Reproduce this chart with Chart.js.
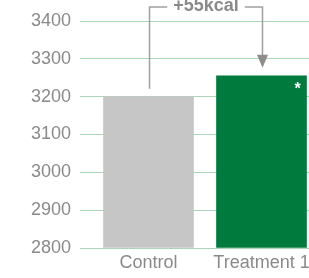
<!DOCTYPE html>
<html>
<head>
<meta charset="utf-8">
<script src="https://cdn.jsdelivr.net/npm/chart.js@4/dist/chart.umd.min.js"></script>
<style>
  html, body { margin: 0; padding: 0; background: #fff; overflow: hidden; }
  canvas { display: block; }
</style>
</head>
<body>
<canvas id="c" width="318" height="278"></canvas>
<script>
// data
const categories = ['Control', 'Treatment 1'];
const intake = [3200, 3255];
const barColors = ['#c6c6c6', '#007a3d'];
const yMin = 2800, yMax = 3400, yStep = 100;
const deltaLabel = '+55kcal';
const markLabel = '*';

const GRID = '#a9d6b7';
const TEXT = '#8a8a8a';
const FONT = '"Liberation Sans", Arial, Helvetica, sans-serif';

// bracket with arrow from control to treatment + asterisk on the treatment bar
const annotate = {
  id: 'annotate',
  afterDatasetsDraw(chart) {
    const ctx = chart.ctx;
    const xs = chart.scales.x, ys = chart.scales.y;
    const x0 = Math.round(xs.getPixelForValue(0)) + 0.5;
    const x1 = Math.round(xs.getPixelForValue(1)) + 0.5;
    const y0 = ys.getPixelForValue(intake[0]);
    const y1 = ys.getPixelForValue(intake[1]);
    const top = chart.chartArea.top - 14;

    ctx.save();
    ctx.font = 'bold 18px ' + FONT;
    const mid = (x0 + x1) / 2;
    const tw = ctx.measureText(deltaLabel).width;

    ctx.strokeStyle = '#a0a0a0';
    ctx.lineWidth = 1.5;
    ctx.beginPath();
    ctx.moveTo(x0, y0 - 8);
    ctx.lineTo(x0, top);
    ctx.lineTo(mid - tw / 2 - 6, top);
    ctx.moveTo(mid + tw / 2 + 6, top);
    ctx.lineTo(x1, top);
    ctx.lineTo(x1, y1 - 20);
    ctx.stroke();

    ctx.fillStyle = '#8c8c8c';
    ctx.beginPath();
    ctx.moveTo(x1 - 5.5, y1 - 21);
    ctx.lineTo(x1 + 5.5, y1 - 21);
    ctx.lineTo(x1, y1 - 8);
    ctx.closePath();
    ctx.fill();

    ctx.fillStyle = TEXT;
    ctx.textAlign = 'center';
    ctx.textBaseline = 'middle';
    ctx.fillText(deltaLabel, mid, top - 1);

    const bar = chart.getDatasetMeta(0).data[1];
    ctx.fillStyle = '#ffffff';
    ctx.font = 'bold 16px ' + FONT;
    ctx.fillText(markLabel, bar.x + bar.width / 2 - 9, bar.y + 14);
    ctx.restore();
  }
};

new Chart(document.getElementById('c'), {
  type: 'bar',
  data: {
    labels: categories,
    datasets: [{
      data: intake,
      backgroundColor: barColors,
      borderWidth: 0,
      barThickness: 90,
      base: yMin
    }]
  },
  options: {
    responsive: false,
    animation: false,
    events: [],
    layout: { padding: { top: 21, left: 0, right: 0, bottom: 0 } },
    plugins: { legend: { display: false }, tooltip: { enabled: false } },
    scales: {
      x: {
        grid: { display: false, drawTicks: false },
        border: { display: false },
        ticks: { color: TEXT, font: { family: FONT, size: 18 }, padding: 4 },
        afterFit(s) { s.height = 30; }
      },
      y: {
        min: yMin,
        max: yMax,
        grid: { color: GRID, lineWidth: 1, tickLength: 12 },
        border: { display: false },
        ticks: {
          stepSize: yStep, color: TEXT, font: { family: FONT, size: 18 }, padding: 9,
          callback: v => String(v)
        },
        afterFit(s) { s.width = 92; }
      }
    }
  },
  plugins: [annotate]
});
</script>
</body>
</html>
